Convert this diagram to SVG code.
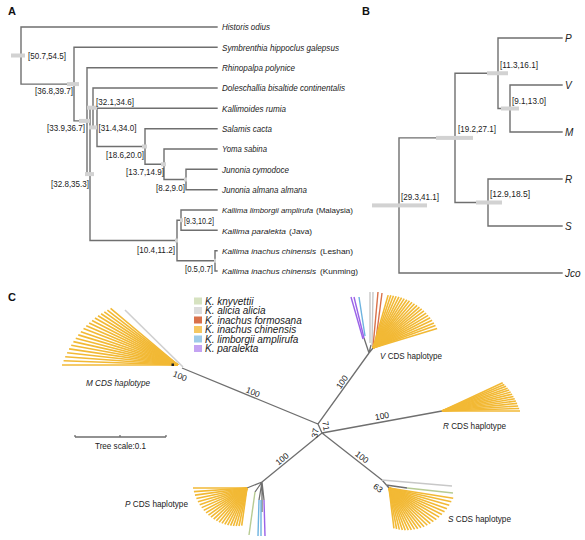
<svg xmlns="http://www.w3.org/2000/svg" width="585" height="540" viewBox="0 0 585 540">
<style>
text{font-family:"Liberation Sans",Arial,sans-serif;fill:#222}
.ttl{font-size:11px;font-weight:bold;fill:#111}
.sp{font-size:8.8px;font-style:italic}
.sk{font-size:8px;font-style:italic}
.up{font-size:8px}
.hpd{font-size:9.5px}
.tip{font-size:10px;font-style:italic}
.br{fill:none;stroke:#6f6f6f;stroke-width:1.4;stroke-linecap:square}
.bar{fill:#d2d2d2}
.lg{font-size:10px;font-style:italic}
.num{font-size:8.5px;text-anchor:middle}
.hap{font-size:9px}
.fy line{stroke:#f2b935;stroke-width:1.6}
.dk{stroke:#6f6f6f;stroke-width:1.3;fill:none}
.cl{stroke-width:1.4;fill:none}
</style>

<!-- Panel titles -->
<text class="ttl" x="8" y="15">A</text>
<text class="ttl" x="362" y="15">B</text>
<text class="ttl" x="8" y="301">C</text>

<!-- ===== Panel A ===== -->
<g id="connectors-A">
<path class="br" d="M21,27H217 M21,27V84.1 M21,84.1H74 M74,47.3V120.9 M74,47.3H217 M74,120.9H87 M87,67.7V174.1 M87,67.7H217 M87,174.1H90 M90,107.7V240.5 M90,107.7H93 M93,88V127.4 M93,88H217 M93,127.4H97 M97,108.3V146.5 M97,108.3H217 M97,146.5H145 M145,128.7V164.25 M145,128.7H217 M145,164.25H164 M164,149V179.5 M164,149H217 M164,179.5H186 M186,169.3V189.7 M186,169.3H217 M186,189.7H217 M90,240.5H177 M177,220.2V260.8 M177,220.2H181 M181,210V230.3 M181,210H217 M181,230.3H217 M177,260.8H215 M215,250.7V271 M215,250.7H217 M215,271H217"/>
</g>

<g id="A-n-root"><rect class="bar" x="11" y="53.5" width="14" height="4"/><text class="hpd" x="28" y="58.5" textLength="38" lengthAdjust="spacingAndGlyphs">[50.7,54.5]</text></g>
<g id="A-n2"><rect class="bar" x="67" y="82.1" width="12" height="4"/><text class="hpd" x="35" y="94" textLength="38" lengthAdjust="spacingAndGlyphs">[36.8,39.7]</text></g>
<g id="A-n3"><rect class="bar" x="79" y="118.9" width="11" height="4"/><text class="hpd" x="47" y="130.5" textLength="38" lengthAdjust="spacingAndGlyphs">[33.9,36.7]</text></g>
<g id="A-n5"><rect class="bar" x="87" y="105.7" width="10" height="4"/><text class="hpd" x="96" y="105" textLength="38" lengthAdjust="spacingAndGlyphs">[32.1,34.6]</text></g>
<g id="A-n6"><rect class="bar" x="89" y="125.4" width="8" height="4"/><text class="hpd" x="98.5" y="131" textLength="38" lengthAdjust="spacingAndGlyphs">[31.4,34.0]</text></g>
<g id="A-n4"><rect class="bar" x="85" y="172.1" width="9" height="4"/><text class="hpd" x="51" y="186.5" textLength="38" lengthAdjust="spacingAndGlyphs">[32.8,35.3]</text></g>
<g id="A-n7"><rect class="bar" x="142" y="144.5" width="5" height="4"/><text class="hpd" x="106" y="157.5" textLength="38" lengthAdjust="spacingAndGlyphs">[18.6,20.0]</text></g>
<g id="A-n8"><rect class="bar" x="161" y="162.25" width="5" height="4"/><text class="hpd" x="126" y="175" textLength="38" lengthAdjust="spacingAndGlyphs">[13.7,14.9]</text></g>
<g id="A-n9"><rect class="bar" x="184" y="177.5" width="3" height="4"/><text class="hpd" x="156" y="190.5" textLength="29" lengthAdjust="spacingAndGlyphs">[8.2,9.0]</text></g>
<g id="A-n11"><rect class="bar" x="180" y="218.2" width="3" height="4"/><text class="hpd" x="184" y="224" textLength="30" lengthAdjust="spacingAndGlyphs">[9.3,10.2]</text></g>
<g id="A-n10"><rect class="bar" x="175" y="238.5" width="3" height="4"/><text class="hpd" x="137" y="252.5" textLength="38" lengthAdjust="spacingAndGlyphs">[10.4,11.2]</text></g>
<g id="A-n12"><rect class="bar" x="214" y="258.8" width="2" height="4"/><text class="hpd" x="185" y="271.5" textLength="28" lengthAdjust="spacingAndGlyphs">[0.5,0.7]</text></g>

<g id="A-historis"><text class="sp" x="222" y="30" textLength="48" lengthAdjust="spacingAndGlyphs">Historis odius</text></g>
<g id="A-symbrenthia"><text class="sp" x="222" y="50.5" textLength="117" lengthAdjust="spacingAndGlyphs">Symbrenthia hippoclus galepsus</text></g>
<g id="A-rhinopalpa"><text class="sp" x="222" y="71" textLength="73" lengthAdjust="spacingAndGlyphs">Rhinopalpa polynice</text></g>
<g id="A-doleschallia"><text class="sp" x="222" y="91.3" textLength="123" lengthAdjust="spacingAndGlyphs">Doleschallia bisaltide continentalis</text></g>
<g id="A-kallimoides"><text class="sp" x="222" y="111.6" textLength="64" lengthAdjust="spacingAndGlyphs">Kallimoides rumia</text></g>
<g id="A-salamis"><text class="sp" x="222" y="132" textLength="50" lengthAdjust="spacingAndGlyphs">Salamis cacta</text></g>
<g id="A-yoma"><text class="sp" x="222" y="152.3" textLength="45" lengthAdjust="spacingAndGlyphs">Yoma sabina</text></g>
<g id="A-jcymodoce"><text class="sp" x="222" y="172.6" textLength="67" lengthAdjust="spacingAndGlyphs">Junonia cymodoce</text></g>
<g id="A-jalmana"><text class="sp" x="222" y="193" textLength="85" lengthAdjust="spacingAndGlyphs">Junonia almana almana</text></g>
<g id="A-klimborgii"><text class="sk" x="222" y="213.3" textLength="91" lengthAdjust="spacingAndGlyphs">Kallima limborgii amplirufa</text><text class="up" x="316" y="213.3" textLength="37" lengthAdjust="spacingAndGlyphs">(Malaysia)</text></g>
<g id="A-kparalekta"><text class="sk" x="222" y="233.6" textLength="64" lengthAdjust="spacingAndGlyphs">Kallima paralekta</text><text class="up" x="289" y="233.6" textLength="23" lengthAdjust="spacingAndGlyphs">(Java)</text></g>
<g id="A-kleshan"><text class="sk" x="222" y="254" textLength="94" lengthAdjust="spacingAndGlyphs">Kallima inachus chinensis</text><text class="up" x="320" y="254" textLength="33" lengthAdjust="spacingAndGlyphs">(Leshan)</text></g>
<g id="A-kkunming"><text class="sk" x="222" y="274.3" textLength="94" lengthAdjust="spacingAndGlyphs">Kallima inachus chinensis</text><text class="up" x="320" y="274.3" textLength="38" lengthAdjust="spacingAndGlyphs">(Kunming)</text></g>

<!-- ===== Panel B ===== -->
<g id="connectors-B">
<path class="br" d="M399,137.9V273 M399,273H562 M399,137.9H455 M455,73.25V202.5 M455,73.25H498 M498,38V108.5 M498,38H562 M498,108.5H510 M510,85V132 M510,85H562 M510,132H562 M455,202.5H488 M488,179V226 M488,179H562 M488,226H562"/>
</g>
<g id="B-root"><rect class="bar" x="372" y="203.4" width="55" height="4"/><text class="hpd" x="401" y="200" textLength="38" lengthAdjust="spacingAndGlyphs">[29.3,41.1]</text></g>
<g id="B-n1"><rect class="bar" x="436" y="135.9" width="37" height="4"/><text class="hpd" x="458" y="131.5" textLength="38" lengthAdjust="spacingAndGlyphs">[19.2,27.1]</text></g>
<g id="B-n2"><rect class="bar" x="487" y="71.25" width="21" height="4"/><text class="hpd" x="500" y="67.5" textLength="38" lengthAdjust="spacingAndGlyphs">[11.3,16.1]</text></g>
<g id="B-n3"><rect class="bar" x="501" y="106.5" width="18" height="4"/><text class="hpd" x="512" y="103.5" textLength="34" lengthAdjust="spacingAndGlyphs">[9.1,13.0]</text></g>
<g id="B-n4"><rect class="bar" x="476" y="200.5" width="26" height="4"/><text class="hpd" x="490" y="197" textLength="40" lengthAdjust="spacingAndGlyphs">[12.9,18.5]</text></g>
<g id="B-P"><text class="tip" x="565" y="41.5">P</text></g>
<g id="B-V"><text class="tip" x="565" y="88.5">V</text></g>
<g id="B-M"><text class="tip" x="565" y="135.5">M</text></g>
<g id="B-R"><text class="tip" x="565" y="182.5">R</text></g>
<g id="B-S"><text class="tip" x="565" y="229.5">S</text></g>
<g id="B-Jco"><text class="tip" x="565" y="276.5">Jco</text></g>

<!-- ===== Panel C ===== -->
<g id="legend">
<rect x="194" y="297.5" width="8" height="7" fill="#d6e2c0"/><text class="lg" x="205" y="304.5">K. knyvettii</text>
<rect x="194" y="307" width="8" height="7" fill="#dcdcdc"/><text class="lg" x="205" y="314">K. alicia alicia</text>
<rect x="194" y="316.5" width="8" height="7" fill="#d9714a"/><text class="lg" x="205" y="323.5">K. inachus formosana</text>
<rect x="194" y="326" width="8" height="7" fill="#f5c862"/><text class="lg" x="205" y="333">K. inachus chinensis</text>
<rect x="194" y="335.5" width="8" height="7" fill="#9ecbe8"/><text class="lg" x="205" y="342.5">K. limborgii amplirufa</text>
<rect x="194" y="345" width="8" height="7" fill="#c4a3f2"/><text class="lg" x="205" y="352">K. paralekta</text>
</g>

<g id="connectors-C">
<path class="dk" d="M182,368 L318,424 L369,353 M318,424 L322,433 M322,433 L442,411 M322,433 L382,480 M322,433 L262,482"/>
<path class="dk" d="M369,353 L364,338 M369,353 L371,345 M369,353 L373,348 M382,480 L389,488 M386,485 L407,488 M262,482 L247,488 M262,482 L255,492 M262,482 L259,500 M262,482 L264,500 M262,482 L262,512"/>
</g>

<g id="M-clade">
<line x1="183" y1="367" x2="125" y2="310" stroke="#cfcfcf" stroke-width="1.6"/>
<g class="fy" transform="translate(178,365)">
<line x2="-116"/>
<line x2="-114.5" transform="rotate(2.1)"/>
<line x2="-113.1" transform="rotate(4.2)"/>
<line x2="-111.6" transform="rotate(6.3)"/>
<line x2="-110.1" transform="rotate(8.4)"/>
<line x2="-108.6" transform="rotate(10.5)"/>
<line x2="-107.2" transform="rotate(12.6)"/>
<line x2="-105.7" transform="rotate(14.7)"/>
<line x2="-104.2" transform="rotate(16.8)"/>
<line x2="-102.7" transform="rotate(18.9)"/>
<line x2="-101.3" transform="rotate(21.1)"/>
<line x2="-99.8" transform="rotate(23.2)"/>
<line x2="-98.3" transform="rotate(25.3)"/>
<line x2="-96.8" transform="rotate(27.4)"/>
<line x2="-95.4" transform="rotate(29.5)"/>
<line x2="-93.9" transform="rotate(31.6)"/>
<line x2="-92.4" transform="rotate(33.7)"/>
<line x2="-90.9" transform="rotate(35.8)"/>
<line x2="-89.5" transform="rotate(37.9)"/>
<line x2="-88" transform="rotate(40)"/>
</g>
<rect x="171.5" y="363.5" width="2.5" height="2.5" fill="#222"/>
<text class="hap" x="86" y="386" font-style="italic" textLength="64" lengthAdjust="spacingAndGlyphs">M CDS haplotype</text>
<text class="num" transform="translate(180,376) rotate(22)" y="3">100</text>
</g>

<g id="V-clade">
<line class="cl" x1="351" y1="297" x2="363" y2="339" stroke="#9a62e8"/>
<line class="cl" x1="354" y1="297" x2="364" y2="338" stroke="#9a62e8"/>
<line class="cl" x1="359" y1="297" x2="365" y2="336" stroke="#6db3e0"/>
<line class="cl" x1="370" y1="292" x2="370" y2="343" stroke="#c8c8c8"/>
<line class="cl" x1="373" y1="292" x2="372" y2="345" stroke="#c8c8c8"/>
<line class="cl" x1="378" y1="292" x2="373" y2="347" stroke="#d9714a"/>
<line class="cl" x1="382" y1="293" x2="375" y2="347" stroke="#d9714a"/>
<g class="fy" transform="translate(373,348)">
<line x2="55" transform="rotate(-74)"/>
<line x2="55.6" transform="rotate(-71.3)"/>
<line x2="56.1" transform="rotate(-68.6)"/>
<line x2="56.7" transform="rotate(-65.9)"/>
<line x2="57.3" transform="rotate(-63.1)"/>
<line x2="57.9" transform="rotate(-60.4)"/>
<line x2="58.4" transform="rotate(-57.7)"/>
<line x2="59" transform="rotate(-55)"/>
<line x2="59.6" transform="rotate(-52.3)"/>
<line x2="60.1" transform="rotate(-49.6)"/>
<line x2="60.7" transform="rotate(-46.9)"/>
<line x2="61.3" transform="rotate(-44.1)"/>
<line x2="61.9" transform="rotate(-41.4)"/>
<line x2="62.4" transform="rotate(-38.7)"/>
<line x2="63" transform="rotate(-36)"/>
<line x2="63.6" transform="rotate(-33.3)"/>
<line x2="64.1" transform="rotate(-30.6)"/>
<line x2="64.7" transform="rotate(-27.9)"/>
<line x2="65.3" transform="rotate(-25.1)"/>
<line x2="65.9" transform="rotate(-22.4)"/>
<line x2="66.4" transform="rotate(-19.7)"/>
<line x2="67" transform="rotate(-17)"/>
</g>
<text class="hap" x="380" y="359" textLength="62" lengthAdjust="spacingAndGlyphs"><tspan font-style="italic">V</tspan> CDS haplotype</text>
</g>

<g id="R-clade">
<g class="fy" transform="translate(442,411)">
<line x2="67" transform="rotate(-25)"/>
<line x2="67.8" transform="rotate(-23.1)"/>
<line x2="68.7" transform="rotate(-21.2)"/>
<line x2="69.5" transform="rotate(-19.2)"/>
<line x2="70.4" transform="rotate(-17.3)"/>
<line x2="71.2" transform="rotate(-15.4)"/>
<line x2="72.1" transform="rotate(-13.5)"/>
<line x2="72.9" transform="rotate(-11.5)"/>
<line x2="73.8" transform="rotate(-9.6)"/>
<line x2="74.6" transform="rotate(-7.7)"/>
<line x2="75.5" transform="rotate(-5.8)"/>
<line x2="76.3" transform="rotate(-3.8)"/>
<line x2="77.2" transform="rotate(-1.9)"/>
<line x2="78"/>
</g>
<text class="hap" x="443" y="429" textLength="63" lengthAdjust="spacingAndGlyphs"><tspan font-style="italic">R</tspan> CDS haplotype</text>
</g>

<g id="S-clade">
<line class="cl" x1="382" y1="480" x2="452" y2="486" stroke="#c8c8c8"/>
<line class="cl" x1="407" y1="488" x2="453" y2="493" stroke="#b7cb93"/>
<g class="fy" transform="translate(389,488)">
<line x2="65" transform="rotate(9)"/>
<line x2="63.8" transform="rotate(12.5)"/>
<line x2="62.7" transform="rotate(16)"/>
<line x2="61.5" transform="rotate(19.6)"/>
<line x2="60.4" transform="rotate(23.1)"/>
<line x2="59.2" transform="rotate(26.6)"/>
<line x2="58" transform="rotate(30.1)"/>
<line x2="56.9" transform="rotate(33.7)"/>
<line x2="55.7" transform="rotate(37.2)"/>
<line x2="54.5" transform="rotate(40.7)"/>
<line x2="53.4" transform="rotate(44.2)"/>
<line x2="52.2" transform="rotate(47.8)"/>
<line x2="51" transform="rotate(51.3)"/>
<line x2="49.9" transform="rotate(54.8)"/>
<line x2="48.7" transform="rotate(58.3)"/>
<line x2="47.5" transform="rotate(61.9)"/>
<line x2="46.4" transform="rotate(65.4)"/>
<line x2="45.2" transform="rotate(68.9)"/>
<line x2="44.1" transform="rotate(72.4)"/>
<line x2="42.9" transform="rotate(76)"/>
<line x2="41.7" transform="rotate(79.5)"/>
<line x2="40.6" transform="rotate(83)"/>
</g>
<text class="hap" x="448" y="522" textLength="63" lengthAdjust="spacingAndGlyphs"><tspan font-style="italic">S</tspan> CDS haplotype</text>
<text class="num" transform="translate(378,488) rotate(38)" y="3">63</text>
</g>

<g id="P-clade">
<line class="cl" x1="255" y1="492" x2="249" y2="535" stroke="#b7cb93"/>
<line class="cl" x1="259" y1="500" x2="258" y2="536" stroke="#6db3e0"/>
<line class="cl" x1="261" y1="500" x2="261" y2="536" stroke="#6db3e0"/>
<line class="cl" x1="264" y1="500" x2="265" y2="536" stroke="#9a62e8"/>
<g class="fy" transform="translate(247,488)">
<line x2="-54"/>
<line x2="-53.2" transform="rotate(-3.9)"/>
<line x2="-52.5" transform="rotate(-7.8)"/>
<line x2="-51.7" transform="rotate(-11.7)"/>
<line x2="-51" transform="rotate(-15.6)"/>
<line x2="-50.2" transform="rotate(-19.5)"/>
<line x2="-49.4" transform="rotate(-23.4)"/>
<line x2="-48.7" transform="rotate(-27.3)"/>
<line x2="-47.9" transform="rotate(-31.2)"/>
<line x2="-47.1" transform="rotate(-35.1)"/>
<line x2="-46.4" transform="rotate(-39)"/>
<line x2="-45.6" transform="rotate(-43)"/>
<line x2="-44.8" transform="rotate(-46.9)"/>
<line x2="-44.1" transform="rotate(-50.8)"/>
<line x2="-43.3" transform="rotate(-54.7)"/>
<line x2="-42.6" transform="rotate(-58.6)"/>
<line x2="-41.8" transform="rotate(-62.5)"/>
<line x2="-41" transform="rotate(-66.4)"/>
<line x2="-40.3" transform="rotate(-70.3)"/>
<line x2="-39.5" transform="rotate(-74.2)"/>
<line x2="-38.8" transform="rotate(-78.1)"/>
<line x2="-38" transform="rotate(-82)"/>
</g>
<text class="hap" x="125" y="507" textLength="63" lengthAdjust="spacingAndGlyphs"><tspan font-style="italic">P</tspan> CDS haplotype</text>
</g>

<g id="branch-labels">
<text class="num" transform="translate(253,392) rotate(22)" y="3">100</text>
<text class="num" transform="translate(342,382) rotate(-55)" y="3">100</text>
<text class="num" transform="translate(382,416) rotate(-10)" y="3">100</text>
<text class="num" transform="translate(362,457) rotate(38)" y="3">100</text>
<text class="num" transform="translate(282,459) rotate(-39)" y="3">100</text>
<text class="num" transform="translate(326,426) rotate(80)" y="3">71</text>
<text class="num" transform="translate(315,433) rotate(-80)" y="3">37</text>
</g>

<g id="scale-bar">
<path class="dk" d="M75,437H166 M75,435V437 M120,435V437 M166,435V437"/>
<text class="hap" x="95" y="449" textLength="51" lengthAdjust="spacingAndGlyphs">Tree scale:0.1</text>
</g>
</svg>
